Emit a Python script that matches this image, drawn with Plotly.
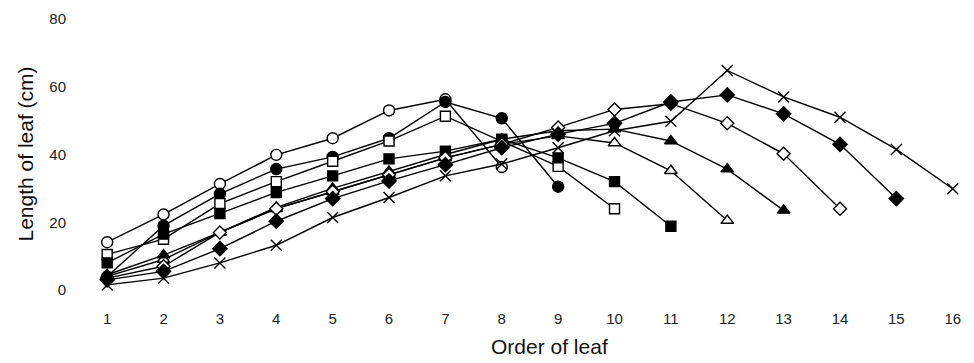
import plotly.graph_objects as go

order = list(range(1, 17))

open_circle   = [14.1, 22.3, 31.3, 39.9, 44.8, 53.0, 56.3, 36.3]
filled_circle = [4.0, 19.0, 28.4, 35.7, 39.3, 44.8, 55.5, 50.7, 30.5]
open_square   = [10.5, 15.0, 25.5, 32.0, 38.0, 44.0, 51.3, 44.0, 36.5, 24.0]
filled_square = [8.0, 16.5, 22.6, 28.8, 33.7, 38.7, 41.0, 44.5, 39.0, 32.0, 18.8]
open_triangle = [4.0, 9.0, 17.0, 24.0, 29.0, 34.0, 39.0, 43.0, 45.5, 43.4, 35.2, 20.5]
filled_triangle = [4.5, 10.3, 17.0, 24.4, 30.0, 35.0, 40.0, 44.5, 47.0, 47.5, 44.0, 35.7, 23.5]
open_diamond  = [3.5, 7.0, 17.0, 24.0, 29.0, 34.0, 39.0, 43.0, 48.0, 53.3, 55.0, 49.2, 40.2, 24.0]
filled_diamond = [3.0, 5.5, 12.2, 20.3, 27.0, 32.2, 37.0, 42.0, 46.0, 49.2, 55.5, 57.6, 52.0, 43.0, 27.0]
cross_series  = [1.5, 3.5, 8.0, 13.2, 21.4, 27.3, 33.7, 37.2, 42.0, 47.0, 49.8, 64.8, 57.0, 51.0, 41.5, 29.9]

series = [
    (open_circle, "circle", "white", 11),
    (filled_circle, "circle", "black", 11),
    (open_square, "square", "white", 10),
    (filled_square, "square", "black", 10),
    (open_triangle, "triangle-up", "white", 11),
    (filled_triangle, "triangle-up", "black", 11),
    (open_diamond, "diamond", "white", 10),
    (filled_diamond, "diamond", "black", 11),
    (cross_series, "x-thin", "black", 11),
]

fig = go.Figure()
for vals, sym, fill, size in series:
    fig.add_trace(go.Scatter(
        x=order[:len(vals)], y=vals, mode="lines+markers",
        line=dict(color="black", width=1.4),
        marker=dict(symbol=sym, color=fill, size=size,
                    line=dict(color="black", width=1.4)),
        cliponaxis=False, showlegend=False,
    ))

font = "Liberation Sans, Arial, sans-serif"
fig.update_layout(
    width=974, height=363,
    margin=dict(l=79, r=10, t=17, b=73),
    plot_bgcolor="white", paper_bgcolor="white",
    font=dict(family=font, color="#222", size=15),
    xaxis=dict(range=[0.5, 16.2], tickvals=order, showgrid=False, zeroline=False,
               showline=False, ticks="", ticklabelstandoff=18,
               tickfont=dict(size=15, family=font, color="#222")),
    yaxis=dict(range=[0, 80], tickvals=[0, 20, 40, 60, 80], showgrid=False, zeroline=False,
               showline=False, ticks="", ticklabelstandoff=12,
               tickfont=dict(size=15, family=font, color="#222")),
    annotations=[
        dict(text="Order of leaf", xref="paper", yref="paper", x=(549 - 79) / 885,
             y=-(347 - 290) / 273, xanchor="center", yanchor="middle", showarrow=False,
             font=dict(size=21, family=font, color="#111")),
        dict(text="Length of leaf (cm)", xref="paper", yref="paper", x=-(79 - 25) / 885,
             y=0.5, xanchor="center", yanchor="middle", textangle=-90, showarrow=False,
             font=dict(size=21, family=font, color="#111")),
    ],
)

fig.write_html("out.html", config={"displayModeBar": False},
               post_script="document.body.style.margin='0';document.body.style.overflow='hidden';")
